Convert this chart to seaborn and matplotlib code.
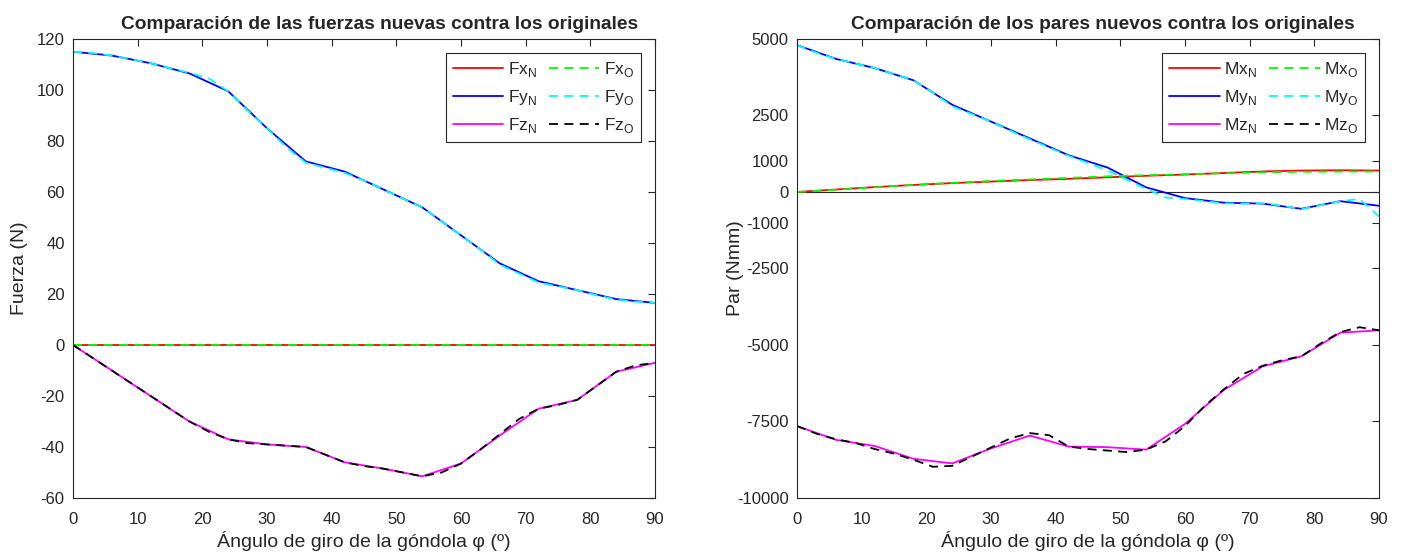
import matplotlib
matplotlib.use("Agg")
import matplotlib.pyplot as plt
import seaborn as sns

# Angles (degrees): new model sampled every 6º, original every 3º
ang_n = [0, 6, 12, 18, 24, 30, 36, 42, 48, 54, 60, 66, 72, 78, 84, 90]
ang_o = [0, 3, 6, 9, 12, 15, 18, 21, 24, 27, 30, 33, 36, 39, 42, 45,
         48, 51, 54, 57, 60, 63, 66, 69, 72, 75, 78, 81, 84, 87, 90]

# Forces (N)
fx_n = [0] * 16
fy_n = [115, 113.5, 110.5, 106.5, 99.5, 85, 72, 68, 61, 54, 43, 32, 25, 21.5, 18, 16.5]
fz_n = [0, -10, -20, -30, -37, -39, -40, -46, -48.5, -51.5, -46.5, -35.5, -25, -21.5, -10.5, -7]

fx_o = [0] * 31
fy_o = [115, 114.5, 113.5, 112, 110.5, 108.5, 106.8, 104.5, 99.5, 92, 85, 77.5, 71.5, 69.5,
        67.5, 64.5, 61, 57.5, 54, 48.5, 43, 37.5, 31.5, 28, 24.5, 23, 21.5, 19.5, 17.8, 17, 16.5]
fz_o = [0, -5, -10, -15, -20, -25, -30, -34, -37, -38.5, -39, -39.5, -40, -43, -46, -47.5,
        -48.5, -50, -51.5, -50, -46.5, -41, -35, -29, -25, -23.5, -21.5, -16, -10.5, -8, -7]

# Moments (Nmm)
mx_n = [0, 80, 160, 230, 290, 340, 390, 430, 480, 530, 570, 620, 670, 700, 710, 700]
my_n = [4800, 4350, 4050, 3650, 2850, 2300, 1750, 1200, 800, 150, -200, -350, -380, -550, -300, -450]
mz_n = [-7650, -8100, -8300, -8720, -8870, -8380, -7960, -8320, -8340, -8420, -7580, -6470,
        -5700, -5370, -4600, -4520]

mx_o = [0, 35, 70, 110, 150, 190, 230, 265, 300, 330, 360, 385, 410, 435, 460, 485, 510,
        530, 550, 565, 580, 595, 610, 625, 640, 650, 660, 665, 670, 670, 670]
my_o = [4800, 4550, 4350, 4200, 4050, 3850, 3650, 3250, 2800, 2550, 2300, 2000, 1720, 1450,
        1180, 950, 700, 400, 100, -180, -230, -300, -370, -380, -370, -450, -560, -430, -300,
        -230, -800]
mz_o = [-7650, -7900, -8080, -8200, -8400, -8550, -8750, -8980, -8950, -8650, -8350, -8050,
        -7880, -7950, -8320, -8400, -8450, -8500, -8420, -8150, -7650, -7000, -6450, -5950,
        -5680, -5500, -5370, -4950, -4580, -4420, -4520]

x_ticks = [0, 10, 20, 30, 40, 50, 60, 70, 80, 90]
f_ticks = [-60, -40, -20, 0, 20, 40, 60, 80, 100, 120]
m_ticks = [-10000, -7500, -5000, -2500, -1000, 0, 1000, 2500, 5000]

sns.set_style("white")
plt.rcParams["font.family"] = ["Liberation Sans", "DejaVu Sans"]
plt.rcParams["mathtext.fontset"] = "custom"
plt.rcParams["mathtext.rm"] = "Liberation Sans"
plt.rcParams["axes.unicode_minus"] = False

fig = plt.figure(figsize=(14.04, 5.53), dpi=100)
ax1 = fig.add_axes([0.052, 0.0995, 0.4145, 0.83])
ax2 = fig.add_axes([0.5677, 0.0995, 0.4145, 0.83])

edge = "#262626"


def draw(ax, names, n_series, o_series):
    colors_n = ["#ff0000", "#0000ff", "#ff00ff"]
    colors_o = ["#00ff00", "#00ffff", "#000000"]
    handles_n, handles_o = [], []
    for i in range(3):
        sns.lineplot(x=ang_n, y=n_series[i], ax=ax, color=colors_n[i], lw=1.3,
                     label=names[i] + r"$_\mathrm{N}$", estimator=None)
        handles_n.append(ax.lines[-1])
    for i in range(3):
        sns.lineplot(x=ang_o, y=o_series[i], ax=ax, color=colors_o[i], lw=1.3,
                     linestyle=(0, (5, 3.5)), label=names[i] + r"$_\mathrm{O}$", estimator=None)
        handles_o.append(ax.lines[-1])
    hs = handles_n + handles_o
    leg = ax.legend(hs, [h.get_label() for h in hs], ncol=2, loc="upper right",
                    fontsize=12.5, frameon=True, fancybox=False, framealpha=1,
                    edgecolor=edge, handlelength=2.9, columnspacing=0.7,
                    handletextpad=0.25, borderpad=0.4, labelspacing=0.52,
                    borderaxespad=0, bbox_to_anchor=(0.976, 0.9695))
    leg.get_frame().set_linewidth(0.8)
    ax.set_xlim(0, 90)
    ax.set_xticks(x_ticks)
    ax.tick_params(direction="in", top=True, right=True, length=5, width=0.8,
                   colors=edge, labelsize=12)
    ax.tick_params(axis="x", pad=10)
    ax.tick_params(axis="y", pad=6)
    for s in ax.spines.values():
        s.set_visible(True)
        s.set_color(edge)
        s.set_linewidth(0.8)
    ax.set_xlabel("Ángulo de giro de la góndola φ (º)", fontsize=14, color=edge, labelpad=3)


draw(ax1, ["Fx", "Fy", "Fz"], [fx_n, fy_n, fz_n], [fx_o, fy_o, fz_o])
ax1.set_ylim(-60, 120)
ax1.set_yticks(f_ticks)
ax1.set_ylabel("Fuerza (N)", fontsize=14, color=edge)
ax1.yaxis.set_label_coords(-0.0773, 0.5)
ax1.set_title("Comparación de las fuerzas nuevas contra los originales",
              fontsize=13.8, fontweight="bold", pad=7, x=0.526)

ax2.axhline(0, color=edge, lw=0.8, zorder=0)
draw(ax2, ["Mx", "My", "Mz"], [mx_n, my_n, mz_n], [mx_o, my_o, mz_o])
ax2.set_ylim(-10000, 5000)
ax2.set_yticks(m_ticks)
ax2.set_ylabel("Par (Nmm)", fontsize=14, color=edge)
ax2.yaxis.set_label_coords(-0.092, 0.5)
ax2.set_title("Comparación de los pares nuevos contra los originales",
              fontsize=13.8, fontweight="bold", pad=7, x=0.526)

fig.savefig("out.png", dpi=100)
